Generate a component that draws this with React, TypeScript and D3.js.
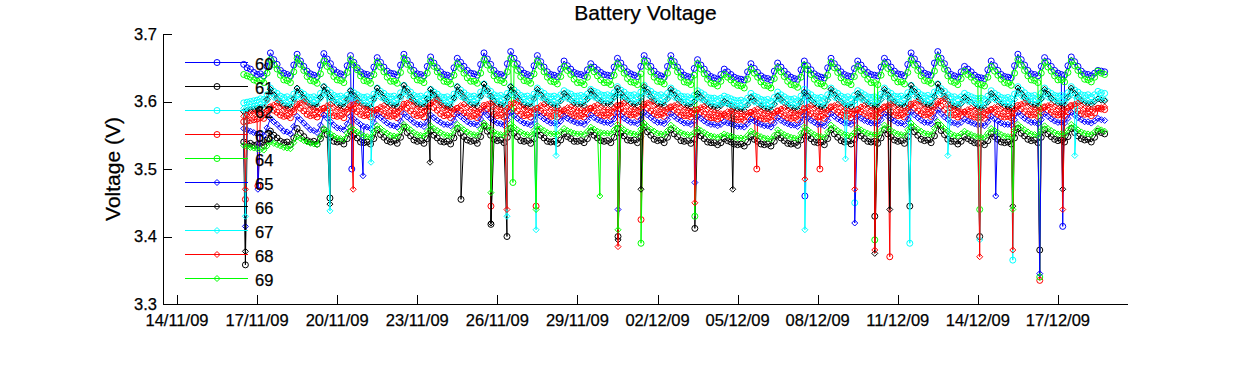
import React, { useMemo } from "react";
import * as d3 from "d3";

// ---------------- data ----------------
const SENSOR_IDS = ["60", "61", "62", "63", "64", "65", "66", "67", "68", "69"];
const SERIES_COLORS = ["#0000ff", "#000000", "#00ffff", "#ff0000", "#00ff00", "#0000ff", "#000000", "#00ffff", "#ff0000", "#00ff00"];
const SERIES_MARKERS = ["circle", "circle", "circle", "circle", "circle", "diamond", "diamond", "diamond", "diamond", "diamond"];

const SAMPLE_START = "2009-11-16T12:00";
const SAMPLE_STEP_HOURS = 3;

const X_TICKS = ["2009-11-14T00:00", "2009-11-17T00:00", "2009-11-20T00:00", "2009-11-23T00:00", "2009-11-26T00:00", "2009-11-29T00:00", "2009-12-02T00:00", "2009-12-05T00:00", "2009-12-08T00:00", "2009-12-11T00:00", "2009-12-14T00:00", "2009-12-17T00:00"];
const X_LIMITS = ["2009-11-13T11:25", "2009-12-19T15:00"];
const Y_TICKS = [3.3, 3.4, 3.5, 3.6, 3.7];
const Y_LIMITS = [3.3, 3.7];

// 3-hourly readings in millivolts, from 16/11/09 12:00 (one row per day: 12,15,18,21,00,03,06,09 h)
const S60_MV = [
  3655, 3650, 3648, 3643, 3640, 3641, 3638, 3652,
  3672, 3662, 3655, 3646, 3642, 3640, 3638, 3654,
  3670, 3660, 3652, 3645, 3641, 3639, 3637, 3654,
  3671, 3663, 3656, 3647, 3643, 3641, 3639, 3653,
  3668, 3658, 3650, 3644, 3641, 3640, 3638, 3651,
  3665, 3658, 3651, 3645, 3642, 3641, 3639, 3654,
  3670, 3661, 3654, 3646, 3641, 3640, 3638, 3652,
  3666, 3657, 3650, 3644, 3640, 3639, 3637, 3650,
  3664, 3658, 3652, 3646, 3642, 3641, 3639, 3655,
  3672, 3663, 3655, 3646, 3641, 3640, 3638, 3656,
  3674, 3664, 3656, 3647, 3642, 3640, 3638, 3653,
  3668, 3659, 3651, 3644, 3640, 3639, 3637, 3648,
  3660, 3653, 3648, 3643, 3641, 3640, 3638, 3647,
  3656, 3651, 3647, 3643, 3640, 3639, 3638, 3651,
  3664, 3657, 3650, 3644, 3641, 3639, 3637, 3652,
  3668, 3660, 3652, 3645, 3640, 3638, 3636, 3652,
  3668, 3659, 3651, 3644, 3639, 3637, 3636, 3649,
  3662, 3654, 3648, 3641, 3637, 3635, 3633, 3640,
  3648, 3644, 3640, 3636, 3634, 3633, 3632, 3644,
  3656, 3649, 3643, 3638, 3635, 3634, 3632, 3645,
  3657, 3651, 3645, 3640, 3636, 3634, 3633, 3647,
  3660, 3653, 3647, 3641, 3638, 3636, 3635, 3650,
  3664, 3656, 3650, 3644, 3640, 3638, 3637, 3649,
  3660, 3654, 3648, 3643, 3640, 3639, 3638, 3651,
  3664, 3658, 3651, 3645, 3641, 3640, 3638, 3655,
  3672, 3663, 3655, 3647, 3642, 3640, 3639, 3657,
  3674, 3664, 3656, 3646, 3640, 3638, 3636, 3644,
  3652, 3648, 3644, 3639, 3636, 3635, 3634, 3647,
  3660, 3653, 3646, 3640, 3637, 3636, 3635, 3653,
  3670, 3662, 3654, 3646, 3641, 3640, 3638, 3652,
  3665, 3659, 3652, 3646, 3642, 3640, 3639, 3653,
  3666, 3659, 3652, 3645, 3641, 3640, 3638, 3642,
  3646, 3645, 3644,
];
const S61_MV = [
  3540, 3537, 3538, 3535, 3536, 3538, 3535, 3543,
  3556, 3550, 3546, 3541, 3539, 3540, 3536, 3546,
  3560, 3553, 3548, 3542, 3540, 3541, 3537, 3545,
  3558, 3551, 3547, 3541, 3540, 3541, 3537, 3545,
  3556, 3550, 3546, 3540, 3539, 3540, 3537, 3545,
  3558, 3551, 3547, 3542, 3540, 3542, 3538, 3547,
  3562, 3554, 3549, 3543, 3541, 3542, 3538, 3545,
  3556, 3550, 3546, 3541, 3540, 3541, 3537, 3546,
  3560, 3553, 3548, 3543, 3541, 3542, 3538, 3548,
  3564, 3556, 3550, 3544, 3542, 3543, 3539, 3547,
  3560, 3553, 3548, 3542, 3541, 3542, 3538, 3545,
  3556, 3550, 3546, 3541, 3540, 3541, 3538, 3543,
  3552, 3548, 3545, 3541, 3541, 3542, 3539, 3545,
  3555, 3550, 3546, 3542, 3541, 3542, 3539, 3547,
  3560, 3553, 3549, 3543, 3542, 3543, 3539, 3548,
  3562, 3555, 3550, 3544, 3542, 3543, 3539, 3547,
  3558, 3552, 3548, 3542, 3541, 3542, 3538, 3544,
  3554, 3549, 3545, 3540, 3539, 3539, 3536, 3539,
  3545, 3542, 3540, 3537, 3536, 3537, 3534, 3540,
  3548, 3544, 3541, 3537, 3536, 3537, 3534, 3541,
  3550, 3546, 3542, 3538, 3537, 3538, 3535, 3543,
  3554, 3549, 3545, 3540, 3539, 3540, 3536, 3545,
  3558, 3552, 3547, 3542, 3540, 3541, 3537, 3544,
  3554, 3549, 3545, 3541, 3540, 3541, 3538, 3546,
  3558, 3552, 3548, 3543, 3541, 3542, 3538, 3548,
  3562, 3555, 3550, 3544, 3542, 3543, 3539, 3549,
  3565, 3557, 3551, 3544, 3541, 3541, 3537, 3541,
  3548, 3545, 3542, 3539, 3538, 3539, 3536, 3542,
  3552, 3548, 3544, 3540, 3539, 3540, 3537, 3546,
  3560, 3553, 3549, 3544, 3542, 3543, 3539, 3547,
  3558, 3552, 3548, 3544, 3542, 3543, 3540, 3548,
  3560, 3554, 3549, 3545, 3543, 3544, 3540, 3547,
  3556, 3554, 3552,
];
const S62_MV = [
  3598, 3599, 3600, 3601, 3602, 3604, 3603, 3610,
  3620, 3615, 3612, 3608, 3606, 3607, 3604, 3611,
  3618, 3614, 3611, 3607, 3606, 3607, 3605, 3612,
  3622, 3617, 3613, 3609, 3607, 3608, 3605, 3609,
  3616, 3613, 3610, 3607, 3606, 3607, 3604, 3611,
  3620, 3615, 3612, 3608, 3607, 3608, 3605, 3613,
  3624, 3618, 3614, 3609, 3607, 3608, 3605, 3610,
  3618, 3614, 3611, 3607, 3606, 3607, 3604, 3611,
  3622, 3617, 3613, 3609, 3607, 3608, 3606, 3614,
  3626, 3619, 3615, 3610, 3608, 3609, 3606, 3612,
  3622, 3617, 3613, 3609, 3607, 3608, 3605, 3611,
  3620, 3615, 3612, 3608, 3607, 3608, 3606, 3610,
  3616, 3613, 3611, 3608, 3608, 3609, 3607, 3611,
  3618, 3615, 3613, 3610, 3609, 3610, 3608, 3613,
  3622, 3617, 3614, 3610, 3609, 3610, 3607, 3614,
  3624, 3618, 3615, 3611, 3609, 3610, 3607, 3612,
  3620, 3615, 3612, 3608, 3607, 3607, 3605, 3609,
  3616, 3613, 3610, 3606, 3605, 3605, 3603, 3605,
  3608, 3606, 3604, 3602, 3601, 3602, 3600, 3605,
  3612, 3608, 3606, 3603, 3602, 3603, 3600, 3606,
  3614, 3610, 3607, 3604, 3603, 3604, 3601, 3608,
  3618, 3613, 3610, 3606, 3605, 3606, 3603, 3610,
  3620, 3615, 3612, 3608, 3606, 3607, 3604, 3609,
  3616, 3613, 3610, 3607, 3606, 3607, 3605, 3611,
  3620, 3615, 3612, 3608, 3607, 3608, 3605, 3613,
  3624, 3618, 3614, 3610, 3608, 3609, 3606, 3614,
  3626, 3619, 3615, 3610, 3607, 3607, 3604, 3607,
  3612, 3609, 3607, 3605, 3604, 3605, 3603, 3608,
  3616, 3612, 3609, 3606, 3605, 3606, 3604, 3611,
  3622, 3617, 3613, 3609, 3608, 3609, 3606, 3612,
  3620, 3615, 3612, 3609, 3608, 3609, 3607, 3613,
  3622, 3617, 3614, 3610, 3609, 3610, 3607, 3610,
  3615, 3613, 3612,
];
const S63_MV = [
  3570, 3571, 3572, 3573, 3574, 3576, 3575, 3582,
  3592, 3587, 3584, 3580, 3578, 3579, 3576, 3585,
  3596, 3590, 3586, 3581, 3579, 3580, 3577, 3582,
  3590, 3586, 3583, 3579, 3578, 3579, 3576, 3584,
  3594, 3589, 3585, 3581, 3579, 3580, 3577, 3581,
  3588, 3585, 3582, 3579, 3578, 3579, 3576, 3585,
  3596, 3590, 3586, 3581, 3579, 3580, 3577, 3586,
  3598, 3591, 3587, 3582, 3579, 3580, 3576, 3582,
  3590, 3586, 3583, 3579, 3578, 3579, 3576, 3584,
  3594, 3589, 3585, 3581, 3579, 3580, 3577, 3585,
  3596, 3590, 3586, 3581, 3579, 3580, 3577, 3582,
  3590, 3586, 3583, 3579, 3578, 3579, 3577, 3581,
  3586, 3583, 3581, 3579, 3578, 3579, 3577, 3582,
  3590, 3586, 3583, 3580, 3579, 3580, 3578, 3584,
  3594, 3589, 3585, 3581, 3580, 3581, 3578, 3585,
  3596, 3590, 3586, 3582, 3580, 3581, 3578, 3584,
  3592, 3587, 3584, 3580, 3579, 3579, 3577, 3581,
  3588, 3584, 3581, 3577, 3576, 3576, 3574, 3576,
  3580, 3578, 3576, 3574, 3573, 3574, 3572, 3577,
  3584, 3581, 3578, 3575, 3574, 3575, 3572, 3578,
  3586, 3582, 3579, 3576, 3575, 3576, 3573, 3580,
  3590, 3585, 3582, 3578, 3577, 3578, 3575, 3582,
  3592, 3587, 3584, 3580, 3578, 3579, 3576, 3581,
  3588, 3585, 3582, 3579, 3578, 3579, 3577, 3583,
  3592, 3587, 3584, 3580, 3579, 3580, 3577, 3585,
  3596, 3590, 3586, 3582, 3580, 3581, 3578, 3587,
  3600, 3593, 3588, 3583, 3580, 3580, 3577, 3579,
  3584, 3581, 3579, 3577, 3576, 3577, 3575, 3580,
  3588, 3584, 3581, 3578, 3577, 3578, 3576, 3583,
  3594, 3589, 3585, 3581, 3580, 3581, 3578, 3584,
  3592, 3587, 3584, 3581, 3580, 3581, 3579, 3585,
  3594, 3589, 3586, 3582, 3581, 3582, 3579, 3583,
  3590, 3589, 3588,
];
const S64_MV = [
  3640, 3638, 3636, 3632, 3630, 3631, 3628, 3642,
  3662, 3655, 3648, 3639, 3632, 3631, 3628, 3644,
  3664, 3655, 3646, 3637, 3631, 3630, 3627, 3641,
  3660, 3652, 3645, 3637, 3632, 3631, 3628, 3643,
  3662, 3654, 3647, 3638, 3631, 3630, 3627, 3640,
  3658, 3651, 3644, 3636, 3630, 3630, 3627, 3643,
  3664, 3655, 3646, 3638, 3632, 3631, 3628, 3642,
  3660, 3652, 3644, 3636, 3630, 3629, 3626, 3639,
  3656, 3649, 3642, 3635, 3630, 3630, 3627, 3642,
  3662, 3654, 3647, 3638, 3632, 3631, 3628, 3644,
  3664, 3655, 3646, 3637, 3631, 3630, 3627, 3641,
  3660, 3652, 3644, 3636, 3630, 3629, 3626, 3637,
  3652, 3646, 3640, 3633, 3628, 3628, 3625, 3636,
  3650, 3644, 3638, 3632, 3628, 3628, 3625, 3639,
  3656, 3649, 3642, 3634, 3629, 3628, 3625, 3641,
  3660, 3652, 3644, 3636, 3630, 3629, 3626, 3642,
  3661, 3653, 3644, 3636, 3629, 3628, 3625, 3639,
  3656, 3648, 3641, 3633, 3627, 3626, 3623, 3630,
  3640, 3636, 3632, 3627, 3624, 3623, 3620, 3633,
  3648, 3642, 3636, 3629, 3624, 3623, 3620, 3634,
  3650, 3644, 3637, 3630, 3625, 3624, 3621, 3636,
  3654, 3647, 3640, 3633, 3627, 3626, 3623, 3639,
  3658, 3650, 3643, 3635, 3629, 3628, 3625, 3637,
  3652, 3646, 3640, 3633, 3628, 3628, 3625, 3639,
  3656, 3649, 3642, 3635, 3629, 3629, 3626, 3643,
  3662, 3654, 3646, 3638, 3631, 3630, 3627, 3645,
  3666, 3657, 3648, 3638, 3630, 3628, 3625, 3634,
  3645, 3640, 3636, 3630, 3626, 3625, 3623, 3636,
  3652, 3645, 3639, 3633, 3628, 3627, 3624, 3642,
  3662, 3654, 3646, 3638, 3632, 3631, 3628, 3642,
  3658, 3651, 3645, 3638, 3632, 3632, 3629, 3643,
  3660, 3653, 3646, 3639, 3633, 3632, 3629, 3636,
  3645, 3642, 3640,
];
const S65_MV = [
  3560, 3558, 3556, 3554, 3552, 3552, 3550, 3561,
  3575, 3570, 3566, 3561, 3556, 3555, 3552, 3563,
  3578, 3573, 3568, 3563, 3558, 3557, 3554, 3565,
  3580, 3575, 3570, 3565, 3561, 3560, 3558, 3567,
  3578, 3574, 3570, 3566, 3563, 3562, 3560, 3569,
  3580, 3576, 3572, 3568, 3565, 3564, 3562, 3571,
  3582, 3577, 3573, 3569, 3566, 3566, 3563, 3570,
  3580, 3576, 3572, 3569, 3566, 3566, 3564, 3572,
  3582, 3578, 3574, 3570, 3567, 3567, 3565, 3574,
  3585, 3580, 3575, 3571, 3568, 3567, 3565, 3573,
  3584, 3579, 3575, 3571, 3568, 3567, 3565, 3572,
  3582, 3578, 3574, 3571, 3568, 3568, 3566, 3571,
  3578, 3575, 3572, 3570, 3568, 3568, 3566, 3572,
  3580, 3576, 3573, 3571, 3569, 3569, 3567, 3574,
  3583, 3579, 3575, 3572, 3569, 3569, 3567, 3574,
  3584, 3580, 3576, 3572, 3569, 3569, 3567, 3573,
  3582, 3578, 3574, 3571, 3568, 3568, 3566, 3571,
  3578, 3575, 3571, 3568, 3566, 3566, 3564, 3566,
  3570, 3568, 3567, 3565, 3563, 3563, 3562, 3567,
  3574, 3571, 3568, 3566, 3564, 3564, 3562, 3568,
  3576, 3572, 3569, 3567, 3565, 3565, 3563, 3570,
  3579, 3575, 3572, 3569, 3566, 3566, 3564, 3572,
  3582, 3578, 3574, 3571, 3568, 3568, 3566, 3571,
  3578, 3575, 3572, 3570, 3568, 3568, 3566, 3573,
  3582, 3578, 3574, 3571, 3568, 3568, 3566, 3574,
  3585, 3580, 3576, 3572, 3569, 3569, 3567, 3576,
  3588, 3582, 3577, 3573, 3569, 3568, 3566, 3569,
  3574, 3571, 3569, 3567, 3565, 3565, 3564, 3570,
  3578, 3574, 3571, 3568, 3566, 3566, 3565, 3573,
  3584, 3579, 3575, 3572, 3569, 3569, 3567, 3573,
  3582, 3578, 3574, 3571, 3569, 3569, 3568, 3575,
  3584, 3580, 3576, 3573, 3570, 3570, 3568, 3571,
  3575, 3573, 3572,
];
const S66_MV = [
  3585, 3587, 3588, 3589, 3590, 3591, 3591, 3603,
  3618, 3610, 3604, 3598, 3594, 3593, 3591, 3604,
  3620, 3612, 3605, 3599, 3595, 3594, 3592, 3606,
  3622, 3613, 3606, 3600, 3595, 3594, 3592, 3603,
  3616, 3609, 3603, 3598, 3594, 3593, 3591, 3604,
  3620, 3612, 3605, 3599, 3595, 3594, 3592, 3607,
  3624, 3615, 3607, 3601, 3596, 3595, 3592, 3604,
  3618, 3610, 3604, 3598, 3594, 3593, 3591, 3605,
  3622, 3613, 3606, 3600, 3595, 3595, 3593, 3608,
  3626, 3616, 3608, 3601, 3596, 3595, 3593, 3606,
  3622, 3613, 3606, 3600, 3595, 3594, 3592, 3604,
  3618, 3610, 3604, 3599, 3595, 3595, 3593, 3601,
  3612, 3607, 3602, 3598, 3596, 3596, 3594, 3604,
  3616, 3609, 3604, 3600, 3597, 3597, 3595, 3606,
  3620, 3612, 3606, 3601, 3597, 3596, 3594, 3606,
  3622, 3614, 3607, 3601, 3597, 3596, 3594, 3604,
  3618, 3610, 3604, 3599, 3595, 3594, 3592, 3600,
  3612, 3606, 3601, 3596, 3593, 3592, 3590, 3594,
  3600, 3597, 3594, 3591, 3589, 3589, 3587, 3595,
  3606, 3601, 3597, 3593, 3590, 3589, 3587, 3596,
  3608, 3603, 3598, 3594, 3591, 3590, 3588, 3599,
  3614, 3608, 3602, 3597, 3593, 3592, 3590, 3602,
  3618, 3610, 3604, 3599, 3595, 3594, 3592, 3600,
  3612, 3606, 3601, 3597, 3594, 3594, 3592, 3603,
  3618, 3610, 3604, 3599, 3595, 3595, 3593, 3606,
  3624, 3615, 3607, 3601, 3596, 3595, 3593, 3607,
  3626, 3616, 3608, 3601, 3595, 3593, 3591, 3597,
  3606, 3602, 3598, 3594, 3592, 3591, 3590, 3599,
  3612, 3606, 3601, 3596, 3593, 3592, 3591, 3603,
  3620, 3612, 3606, 3600, 3596, 3595, 3593, 3604,
  3618, 3611, 3605, 3600, 3597, 3597, 3595, 3606,
  3620, 3612, 3606, 3601, 3598, 3597, 3596, 3600,
  3604, 3602, 3601,
];
const S67_MV = [
  3590, 3591, 3592, 3593, 3594, 3596, 3595, 3601,
  3610, 3606, 3603, 3600, 3598, 3598, 3596, 3601,
  3608, 3605, 3602, 3600, 3598, 3599, 3597, 3604,
  3612, 3608, 3604, 3601, 3599, 3599, 3597, 3601,
  3607, 3604, 3601, 3599, 3598, 3598, 3596, 3602,
  3610, 3606, 3603, 3601, 3599, 3599, 3597, 3604,
  3613, 3609, 3605, 3602, 3599, 3599, 3597, 3602,
  3608, 3605, 3602, 3600, 3598, 3598, 3596, 3603,
  3611, 3607, 3604, 3601, 3599, 3600, 3598, 3606,
  3615, 3610, 3606, 3603, 3600, 3600, 3598, 3604,
  3612, 3608, 3604, 3601, 3599, 3599, 3597, 3603,
  3610, 3606, 3603, 3601, 3599, 3600, 3598, 3602,
  3606, 3604, 3602, 3600, 3600, 3600, 3599, 3603,
  3608, 3606, 3604, 3602, 3601, 3601, 3600, 3605,
  3612, 3608, 3605, 3603, 3601, 3601, 3599, 3606,
  3614, 3610, 3606, 3603, 3601, 3601, 3599, 3604,
  3610, 3606, 3603, 3601, 3599, 3599, 3597, 3601,
  3606, 3603, 3601, 3599, 3597, 3597, 3595, 3596,
  3598, 3596, 3595, 3594, 3593, 3593, 3592, 3596,
  3602, 3599, 3597, 3595, 3594, 3594, 3592, 3597,
  3604, 3601, 3598, 3596, 3595, 3595, 3593, 3600,
  3608, 3604, 3601, 3599, 3597, 3597, 3595, 3602,
  3610, 3606, 3603, 3600, 3598, 3598, 3596, 3600,
  3606, 3603, 3601, 3599, 3598, 3598, 3597, 3603,
  3610, 3606, 3603, 3601, 3599, 3599, 3597, 3605,
  3614, 3609, 3605, 3602, 3600, 3600, 3598, 3606,
  3616, 3611, 3606, 3602, 3599, 3598, 3596, 3598,
  3602, 3600, 3598, 3597, 3596, 3596, 3595, 3600,
  3606, 3603, 3600, 3598, 3597, 3597, 3596, 3603,
  3612, 3608, 3604, 3602, 3600, 3600, 3598, 3603,
  3610, 3606, 3603, 3601, 3600, 3600, 3599, 3605,
  3612, 3608, 3605, 3603, 3601, 3601, 3599, 3601,
  3605, 3604, 3603,
];
const S68_MV = [
  3578, 3580, 3582, 3583, 3584, 3584, 3583, 3587,
  3590, 3595, 3598, 3592, 3588, 3587, 3585, 3588,
  3594, 3598, 3600, 3594, 3589, 3588, 3586, 3588,
  3590, 3594, 3596, 3591, 3588, 3587, 3585, 3588,
  3592, 3596, 3598, 3593, 3589, 3588, 3586, 3587,
  3588, 3592, 3594, 3590, 3587, 3586, 3585, 3589,
  3594, 3598, 3600, 3594, 3589, 3588, 3586, 3591,
  3596, 3600, 3602, 3595, 3590, 3588, 3586, 3588,
  3590, 3594, 3596, 3591, 3588, 3587, 3585, 3588,
  3592, 3596, 3598, 3593, 3589, 3588, 3586, 3590,
  3594, 3598, 3600, 3594, 3589, 3588, 3586, 3588,
  3590, 3594, 3596, 3591, 3588, 3587, 3586, 3587,
  3588, 3591, 3592, 3589, 3587, 3587, 3586, 3588,
  3590, 3593, 3595, 3591, 3588, 3588, 3587, 3590,
  3593, 3596, 3598, 3593, 3589, 3588, 3587, 3590,
  3594, 3598, 3600, 3594, 3590, 3588, 3587, 3589,
  3591, 3594, 3596, 3591, 3588, 3587, 3586, 3587,
  3588, 3591, 3593, 3588, 3585, 3584, 3583, 3582,
  3582, 3585, 3586, 3584, 3582, 3582, 3581, 3582,
  3584, 3587, 3589, 3585, 3583, 3582, 3581, 3583,
  3586, 3589, 3591, 3587, 3584, 3583, 3582, 3585,
  3589, 3592, 3594, 3590, 3586, 3585, 3584, 3587,
  3591, 3594, 3596, 3591, 3587, 3586, 3585, 3586,
  3588, 3592, 3594, 3590, 3587, 3587, 3586, 3588,
  3591, 3594, 3596, 3592, 3588, 3587, 3586, 3590,
  3594, 3598, 3600, 3594, 3589, 3588, 3587, 3592,
  3597, 3601, 3604, 3596, 3590, 3588, 3586, 3585,
  3585, 3588, 3590, 3587, 3585, 3585, 3584, 3586,
  3588, 3591, 3593, 3589, 3586, 3586, 3585, 3588,
  3592, 3596, 3598, 3593, 3589, 3588, 3587, 3589,
  3591, 3594, 3596, 3592, 3589, 3589, 3588, 3590,
  3593, 3596, 3598, 3594, 3590, 3589, 3588, 3589,
  3590, 3591, 3592,
];
const S69_MV = [
  3535, 3533, 3532, 3531, 3530, 3529, 3528, 3534,
  3540, 3538, 3536, 3534, 3532, 3531, 3530, 3539,
  3548, 3545, 3542, 3540, 3538, 3537, 3536, 3548,
  3560, 3556, 3552, 3549, 3546, 3545, 3544, 3553,
  3562, 3558, 3555, 3552, 3549, 3548, 3547, 3555,
  3564, 3560, 3556, 3553, 3550, 3549, 3548, 3557,
  3566, 3562, 3558, 3554, 3551, 3550, 3549, 3556,
  3564, 3560, 3557, 3554, 3551, 3550, 3549, 3557,
  3566, 3562, 3558, 3555, 3552, 3551, 3550, 3559,
  3568, 3563, 3559, 3555, 3552, 3551, 3550, 3558,
  3566, 3562, 3558, 3555, 3552, 3551, 3550, 3557,
  3564, 3560, 3557, 3554, 3552, 3552, 3551, 3555,
  3560, 3557, 3555, 3553, 3552, 3552, 3551, 3556,
  3562, 3559, 3556, 3554, 3553, 3553, 3552, 3558,
  3566, 3562, 3558, 3555, 3553, 3552, 3551, 3559,
  3568, 3563, 3559, 3556, 3553, 3552, 3551, 3557,
  3565, 3561, 3557, 3554, 3552, 3551, 3550, 3554,
  3560, 3557, 3554, 3551, 3549, 3548, 3547, 3549,
  3552, 3550, 3549, 3547, 3546, 3546, 3545, 3550,
  3556, 3553, 3550, 3548, 3546, 3545, 3544, 3550,
  3558, 3554, 3551, 3549, 3547, 3546, 3545, 3553,
  3562, 3558, 3554, 3551, 3549, 3548, 3547, 3555,
  3565, 3561, 3557, 3554, 3551, 3550, 3549, 3554,
  3561, 3558, 3555, 3553, 3551, 3551, 3550, 3557,
  3565, 3561, 3557, 3554, 3552, 3551, 3550, 3558,
  3568, 3563, 3559, 3556, 3553, 3552, 3551, 3560,
  3570, 3565, 3560, 3556, 3552, 3550, 3549, 3552,
  3556, 3553, 3551, 3549, 3548, 3547, 3547, 3553,
  3560, 3557, 3554, 3551, 3549, 3548, 3548, 3557,
  3566, 3562, 3558, 3555, 3552, 3551, 3550, 3557,
  3564, 3560, 3557, 3554, 3552, 3552, 3551, 3558,
  3566, 3562, 3558, 3555, 3553, 3552, 3551, 3555,
  3560, 3558, 3556,
];

// isolated low readings (time, volts)
const D60: [string, number][] = [["2009-11-20T13:10", 3.50], ["2009-12-07T12:30", 3.46], ["2009-12-17T04:20", 3.415]];
const D61: [string, number][] = [["2009-11-16T13:30", 3.358], ["2009-11-19T17:30", 3.457], ["2009-11-24T15:20", 3.455], ["2009-11-25T18:15", 3.418], ["2009-11-26T08:40", 3.40], ["2009-11-30T12:30", 3.40], ["2009-12-03T09:35", 3.412], ["2009-12-10T03:20", 3.43], ["2009-12-11T10:50", 3.445], ["2009-12-14T01:40", 3.40], ["2009-12-16T07:40", 3.38]];
const D62: [string, number][] = [["2009-12-09T09:20", 3.45], ["2009-12-11T10:50", 3.39], ["2009-12-15T07:25", 3.365]];
const D63: [string, number][] = [["2009-11-16T13:30", 3.455], ["2009-11-17T00:45", 3.475], ["2009-11-25T18:15", 3.445], ["2009-11-27T10:50", 3.445], ["2009-12-01T09:10", 3.425], ["2009-12-05T17:15", 3.50], ["2009-12-08T02:00", 3.50], ["2009-12-10T16:50", 3.37], ["2009-12-16T07:40", 3.335]];
const D64: [string, number][] = [["2009-11-26T14:00", 3.48], ["2009-12-01T09:10", 3.39], ["2009-12-03T09:35", 3.43], ["2009-12-10T03:20", 3.395], ["2009-12-14T01:40", 3.44], ["2009-12-16T07:40", 3.34]];
const D65: [string, number][] = [["2009-11-16T13:30", 3.415], ["2009-11-17T00:45", 3.47], ["2009-11-20T23:15", 3.49], ["2009-11-30T12:30", 3.44], ["2009-12-03T09:35", 3.48], ["2009-12-09T09:20", 3.42], ["2009-12-14T16:05", 3.46], ["2009-12-16T07:40", 3.345]];
const D66: [string, number][] = [["2009-11-16T13:30", 3.378], ["2009-11-19T17:30", 3.448], ["2009-11-23T11:30", 3.51], ["2009-11-25T18:15", 3.42], ["2009-11-30T12:30", 3.395], ["2009-12-01T09:10", 3.47], ["2009-12-04T19:40", 3.47], ["2009-12-10T03:20", 3.375], ["2009-12-10T16:50", 3.44], ["2009-12-15T07:25", 3.445], ["2009-12-17T04:20", 3.47]];
const D67: [string, number][] = [["2009-11-16T13:30", 3.43], ["2009-11-19T17:30", 3.438], ["2009-11-21T06:30", 3.51], ["2009-11-26T08:40", 3.43], ["2009-11-27T10:50", 3.41], ["2009-11-28T04:50", 3.52], ["2009-12-07T12:30", 3.41], ["2009-12-09T01:00", 3.515], ["2009-12-12T21:00", 3.52], ["2009-12-14T01:40", 3.395], ["2009-12-17T15:10", 3.52]];
const D68: [string, number][] = [["2009-11-16T13:30", 3.47], ["2009-11-20T14:25", 3.47], ["2009-11-26T08:40", 3.44], ["2009-11-30T12:30", 3.385], ["2009-12-03T09:35", 3.45], ["2009-12-07T12:30", 3.485], ["2009-12-09T09:20", 3.47], ["2009-12-10T03:20", 3.38], ["2009-12-14T01:40", 3.37], ["2009-12-15T07:25", 3.38], ["2009-12-17T04:20", 3.44]];
const D69: [string, number][] = [["2009-11-25T18:15", 3.465], ["2009-11-27T10:50", 3.44], ["2009-11-29T20:10", 3.46], ["2009-11-30T12:30", 3.41], ["2009-12-15T07:25", 3.44]];

const SERIES_MV = [S60_MV, S61_MV, S62_MV, S63_MV, S64_MV, S65_MV, S66_MV, S67_MV, S68_MV, S69_MV];
const SERIES_DIPS = [D60, D61, D62, D63, D64, D65, D66, D67, D68, D69];

// ---------------- layout ----------------
const W = 1250;
const H = 365;
const M = { left: 163, right: 1128, top: 34, bottom: 304 };
const FONT = "'Liberation Sans', Arial, Helvetica, sans-serif";

const parse = d3.timeParse("%Y-%m-%dT%H:%M");
const fmt = d3.timeFormat("%d/%m/%y");

function markerPath(kind: string, x: number, y: number): string {
  const r = 3;
  if (kind === "diamond") {
    return `M${x},${y - r}L${x + r},${y}L${x},${y + r}L${x - r},${y}Z`;
  }
  return `M${x - r},${y}A${r},${r} 0 1,0 ${x + r},${y}A${r},${r} 0 1,0 ${x - r},${y}Z`;
}

export default function App() {
  const x = d3.scaleTime().domain(X_LIMITS.map((s) => parse(s) as Date)).range([M.left, M.right]);
  const y = d3.scaleLinear().domain(Y_LIMITS).range([M.bottom, M.top]);

  const series = useMemo(() => {
    const start = parse(SAMPLE_START) as Date;
    return SERIES_MV.map((vals, i) => {
      const pts: [Date, number][] = vals.map((mv, k) => [d3.timeHour.offset(start, k * SAMPLE_STEP_HOURS), mv / 1000]);
      SERIES_DIPS[i].forEach(([t, v]) => pts.push([parse(t) as Date, v]));
      pts.sort((a, b) => +a[0] - +b[0]);
      return pts;
    });
  }, []);

  const line = d3
    .line<[Date, number]>()
    .x((d) => x(d[0]))
    .y((d) => y(d[1]));

  const legendX0 = 185;
  const legendX1 = 248;
  const legendMarkX = 217;
  const legendY0 = 62.5;
  const legendDy = 24;
  const textStroke = { stroke: "#000", strokeWidth: 0.25 };

  return (
    <svg width={W} height={H} style={{ position: "absolute", left: 0, top: 0, background: "#fff" }} fontFamily={FONT}>
      <rect x={0} y={0} width={W} height={H} fill="#fff" />
      {series.map((pts, i) => (
        <g key={SENSOR_IDS[i]}>
          <path d={line(pts) || ""} fill="none" stroke={SERIES_COLORS[i]} strokeWidth={1} />
          <path
            d={pts.map((p) => markerPath(SERIES_MARKERS[i], x(p[0]), y(p[1]))).join("")}
            fill="none"
            stroke={SERIES_COLORS[i]}
            strokeWidth={1}
          />
        </g>
      ))}
      <g stroke="#000" strokeWidth={1} shapeRendering="crispEdges">
        <line x1={M.left + 0.5} x2={M.left + 0.5} y1={M.top} y2={M.bottom + 0.5} />
        <line x1={M.left} x2={M.right} y1={M.bottom + 0.5} y2={M.bottom + 0.5} />
        {Y_TICKS.map((t) => (
          <line key={t} x1={M.left} x2={M.left + 9} y1={Math.round(y(t)) + 0.5} y2={Math.round(y(t)) + 0.5} />
        ))}
        {X_TICKS.map((s) => {
          const px = Math.round(x(parse(s) as Date)) + 0.5;
          return <line key={s} x1={px} x2={px} y1={M.bottom} y2={M.bottom - 9} />;
        })}
      </g>
      <g fontSize={16.5} fill="#000" {...textStroke}>
        {Y_TICKS.map((t) => (
          <text key={t} x={157} y={y(t)} dy="0.35em" textAnchor="end">
            {d3.format(".1f")(t)}
          </text>
        ))}
        {X_TICKS.map((s) => (
          <text key={s} x={x(parse(s) as Date)} y={326} textAnchor="middle">
            {fmt(parse(s) as Date)}
          </text>
        ))}
      </g>
      <text x={(M.left + M.right) / 2} y={20} textAnchor="middle" fontSize={21} fill="#000" {...textStroke}>
        Battery Voltage
      </text>
      <text transform={`translate(120,${(M.top + M.bottom) / 2}) rotate(-90)`} textAnchor="middle" fontSize={21} fill="#000" {...textStroke}>
        Voltage (V)
      </text>
      {SENSOR_IDS.map((id, i) => {
        const ly = legendY0 + i * legendDy;
        return (
          <g key={id}>
            <line x1={legendX0} x2={legendX1} y1={ly} y2={ly} stroke={SERIES_COLORS[i]} strokeWidth={1} />
            <path d={markerPath(SERIES_MARKERS[i], legendMarkX, ly)} fill="none" stroke={SERIES_COLORS[i]} strokeWidth={1} />
            <text x={255} y={ly + 7.5} fontSize={16.5} fill="#000" {...textStroke}>
              {id}
            </text>
          </g>
        );
      })}
    </svg>
  );
}
